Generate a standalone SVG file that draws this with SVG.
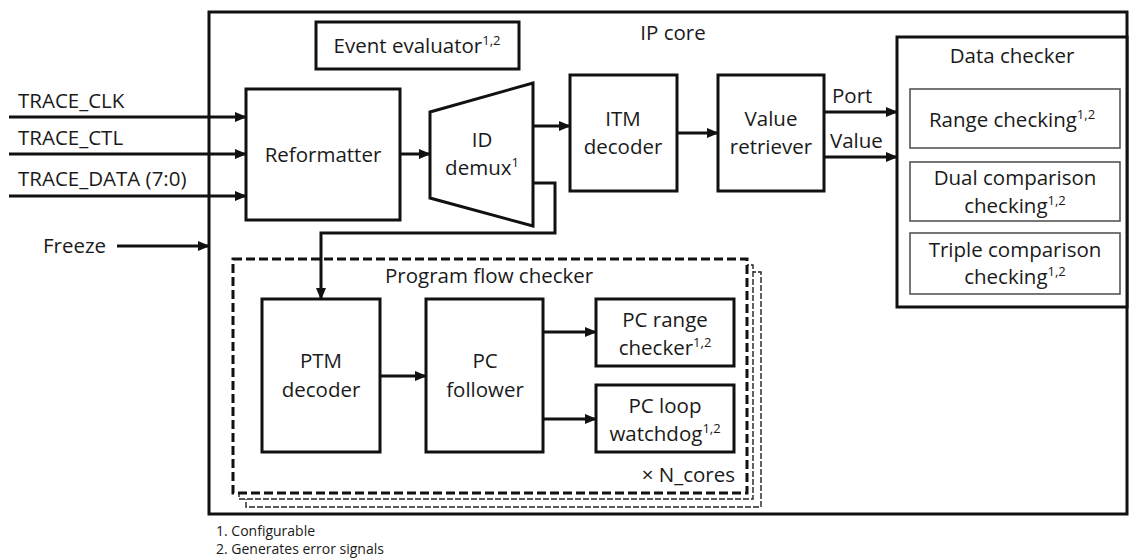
<svg xmlns="http://www.w3.org/2000/svg" width="1129" height="558" viewBox="0 0 1129 558">
  <style>
    text { font-family: "Open Sans", "Liberation Sans", sans-serif; fill: #1a1a1a; }
    .t { font-size: 20.5px; }
    .c { text-anchor: middle; }
    .sup { font-size: 13px; }
    .note { font-size: 14px; }
    .box { fill: #ffffff; stroke: #111111; stroke-width: 3; }
    .inner { fill: #ffffff; stroke: #555555; stroke-width: 1.6; }
    .dash { fill: #ffffff; stroke: #111111; stroke-width: 3; stroke-dasharray: 9 4; }
    .dash2 { fill: #ffffff; stroke: #222222; stroke-width: 1.4; stroke-dasharray: 6 2; }
    .arrow { fill: none; stroke: #111111; stroke-width: 3; marker-end: url(#head); }
  </style>
  <defs>
    <marker id="head" markerUnits="userSpaceOnUse" markerWidth="12" markerHeight="10" refX="11" refY="5" orient="auto">
      <path d="M0,0 L12,5 L0,10 Z" fill="#111111"/>
    </marker>
  </defs>

  <rect width="1129" height="558" fill="#ffffff"/>

  <!-- IP core container -->
  <g id="ip-core">
    <rect class="box" x="209" y="12" width="918" height="502"/>
    <text class="t c" x="673" y="40">IP core</text>
  </g>

  <g id="event-evaluator">
    <rect class="box" x="316" y="22" width="203" height="47"/>
    <text class="t c" x="417" y="53">Event evaluator<tspan class="sup" dy="-8">1,2</tspan></text>
  </g>

  <g id="reformatter">
    <rect class="box" x="246" y="89" width="154" height="131"/>
    <text class="t c" x="323" y="162">Reformatter</text>
  </g>

  <g id="id-demux">
    <path class="box" d="M430,112 L533,83 L533,226 L430,198 Z"/>
    <text class="t c" x="482" y="147">ID</text>
    <text class="t c" x="482" y="175">demux<tspan class="sup" dy="-8">1</tspan></text>
  </g>

  <g id="itm-decoder">
    <rect class="box" x="570" y="75" width="107" height="116"/>
    <text class="t c" x="623" y="126">ITM</text>
    <text class="t c" x="623" y="154">decoder</text>
  </g>

  <g id="value-retriever">
    <rect class="box" x="718" y="75" width="106" height="116"/>
    <text class="t c" x="771" y="126">Value</text>
    <text class="t c" x="771" y="154">retriever</text>
  </g>

  <g id="data-checker">
    <rect class="box" x="897" y="37" width="230" height="270"/>
    <text class="t c" x="1012" y="63">Data checker</text>
    <rect class="inner" x="910" y="89" width="210" height="59"/>
    <text class="t c" x="1012" y="127">Range checking<tspan class="sup" dy="-8">1,2</tspan></text>
    <rect class="inner" x="910" y="162" width="210" height="59"/>
    <text class="t c" x="1015" y="185">Dual comparison</text>
    <text class="t c" x="1015" y="213">checking<tspan class="sup" dy="-8">1,2</tspan></text>
    <rect class="inner" x="910" y="233" width="210" height="61"/>
    <text class="t c" x="1015" y="257">Triple comparison</text>
    <text class="t c" x="1015" y="284">checking<tspan class="sup" dy="-8">1,2</tspan></text>
  </g>

  <!-- Program flow checker, stacked once per core -->
  <g id="program-flow-checker">
    <rect class="dash2" x="246" y="272" width="515" height="235"/>
    <rect class="dash2" x="239" y="265" width="514" height="234"/>
    <rect class="dash" x="233" y="259" width="514" height="234"/>
    <text class="t" x="385" y="283">Program flow checker</text>
    <text class="t" x="735" y="482" text-anchor="end">× N_cores</text>
  </g>

  <g id="ptm-decoder">
    <rect class="box" x="262" y="299" width="118" height="153"/>
    <text class="t c" x="321" y="368">PTM</text>
    <text class="t c" x="321" y="397">decoder</text>
  </g>

  <g id="pc-follower">
    <rect class="box" x="426" y="299" width="117" height="153"/>
    <text class="t c" x="485" y="368">PC</text>
    <text class="t c" x="485" y="397">follower</text>
  </g>

  <g id="pc-range-checker">
    <rect class="box" x="596" y="299" width="138" height="67"/>
    <text class="t c" x="665" y="327">PC range</text>
    <text class="t c" x="665" y="355">checker<tspan class="sup" dy="-8">1,2</tspan></text>
  </g>

  <g id="pc-loop-watchdog">
    <rect class="box" x="596" y="385" width="138" height="67"/>
    <text class="t c" x="665" y="413">PC loop</text>
    <text class="t c" x="665" y="441">watchdog<tspan class="sup" dy="-8">1,2</tspan></text>
  </g>

  <!-- Connectors -->
  <g id="connectors">
    <line class="arrow" x1="9" y1="117" x2="246" y2="117"/>
    <line class="arrow" x1="9" y1="154" x2="246" y2="154"/>
    <line class="arrow" x1="9" y1="196" x2="246" y2="196"/>
    <line class="arrow" x1="117" y1="246" x2="209" y2="246"/>
    <line class="arrow" x1="400" y1="154" x2="430" y2="154"/>
    <line class="arrow" x1="533" y1="126" x2="570" y2="126"/>
    <line class="arrow" x1="677" y1="133" x2="718" y2="133"/>
    <line class="arrow" x1="824" y1="112" x2="897" y2="112"/>
    <line class="arrow" x1="824" y1="157" x2="897" y2="157"/>
    <path class="arrow" d="M533,183 L555,183 L555,233 L321,233 L321,299"/>
    <line class="arrow" x1="380" y1="376" x2="426" y2="376"/>
    <line class="arrow" x1="543" y1="332" x2="596" y2="332"/>
    <line class="arrow" x1="543" y1="419" x2="596" y2="419"/>
  </g>

  <g id="labels">
    <text class="t" x="18" y="108">TRACE_CLK</text>
    <text class="t" x="18" y="145">TRACE_CTL</text>
    <text class="t" x="18" y="186">TRACE_DATA (7:0)</text>
    <text class="t" x="43" y="253">Freeze</text>
    <text class="t" x="832" y="103">Port</text>
    <text class="t" x="830" y="148">Value</text>
    <text class="note" x="216" y="536">1. Configurable</text>
    <text class="note" x="216" y="554">2. Generates error signals</text>
  </g>
</svg>
